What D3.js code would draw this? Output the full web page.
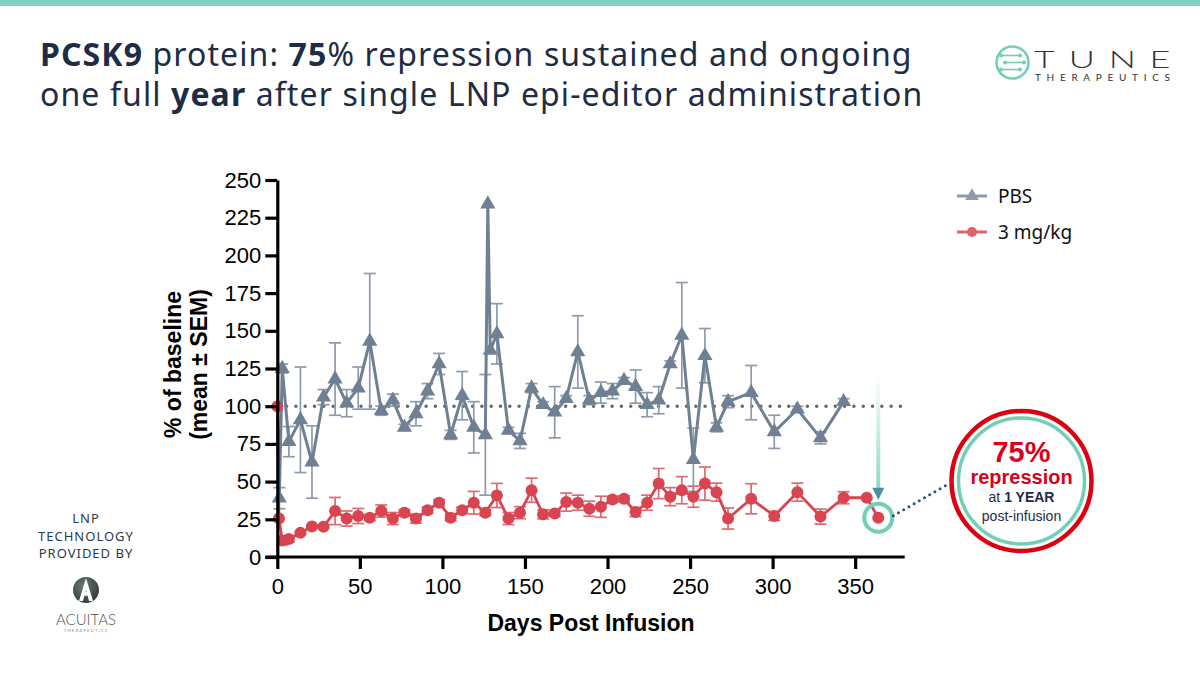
<!DOCTYPE html>
<html>
<head>
<meta charset="utf-8">
<script src="https://cdn.jsdelivr.net/npm/d3@7"></script>
<style>
  body { margin: 0; background: #fff; }
  svg { display: block; }
</style>
</head>
<body>
<svg id="slide" width="1200" height="675"></svg>
<script>
// ---- data ----
const pbsDays = [0, 1.2, 3, 7, 14, 21, 28, 35, 42, 49, 56, 63, 70, 77, 84, 91, 98, 105, 112, 119, 126, 127.5, 129, 133, 140, 147, 154, 161, 168, 175, 182, 189, 196, 203, 210, 217, 224, 231, 238, 245, 252, 259, 266, 273, 287, 301, 315, 329, 343];
const pbsMean = [100, 39, 125, 76.5, 91, 63, 106, 118, 102, 112, 143, 97, 104, 86, 95, 110, 128, 81, 107, 86, 81, 234, 137, 148, 84, 77, 112, 101, 96, 105, 136, 104, 109, 110, 117, 113, 101, 104, 128, 147, 64.5, 133.5, 86, 103, 109, 83, 98, 79, 103];
const pbsSem  = [0, 7, 3, 10, 35, 24, 5, 24, 9, 14, 45, 3, 4, 2, 8, 5, 7, 3, 16, 17, 40, 0, 0, 20, 2, 5, 3, 2, 17, 2, 24, 3, 7, 5, 2, 11, 8, 9, 2, 35, 21, 18, 3, 4, 18, 11, 2, 4, 2];

const doseDays = [0, 1, 3, 7, 14, 21, 28, 35, 42, 49, 56, 63, 70, 77, 84, 91, 98, 105, 112, 119, 126, 133, 140, 147, 154, 161, 168, 175, 182, 189, 196, 203, 210, 217, 224, 231, 238, 245, 252, 259, 266, 273, 287, 301, 315, 329, 343, 357, 364];
const doseMean = [100, 25.5, 11, 12, 16, 20.3, 20, 30.5, 25.5, 27.2, 26.1, 30.5, 25.5, 29.4, 25.5, 31, 36, 26.1, 31, 36, 29.4, 40.8, 25.5, 29.4, 44.3, 28.3, 28.9, 36.4, 36, 32, 33.3, 38.2, 38.6, 29.8, 36, 48.7, 40, 44.3, 40, 48.7, 43, 25.5, 38.6, 27.2, 43, 26.8, 39.3, 39.3, 26.1];
const doseSem  = [0, 0, 3, 2, 1, 1, 1, 9, 5, 5, 2, 4, 4, 2, 3, 2, 2, 2, 2, 7.5, 2, 8, 4, 4, 8, 3, 2, 6, 5, 5, 7, 2, 2, 3, 5, 10, 6, 9, 7, 11, 6, 7, 10, 3, 6, 5, 4, 0, 0];

const xTicks = [0, 50, 100, 150, 200, 250, 300, 350];
const yTicks = [0, 25, 50, 75, 100, 125, 150, 175, 200, 225, 250];
const seriesNames = ["PBS", "3 mg/kg"];

const pbsColor = "#6f8092";
const pbsLight = "#8d9bab";
const doseColor = "#d8444f";
const teal = "#72cfb6";
const navy = "#1e2c45";

const svg = d3.select("#slide");

// top stripe
svg.append("rect").attr("x", 0).attr("y", 0).attr("width", 1200).attr("height", 6).attr("fill", "#7fd1bb");

// title
const title = svg.append("text").attr("font-family", "Noto Sans").attr("font-size", 32)
  .attr("letter-spacing", 1.1).attr("fill", navy);
const l1 = title.append("tspan").attr("x", 40).attr("y", 66);
l1.append("tspan").attr("font-weight", "bold").text("PCSK9");
l1.append("tspan").text(" protein: ");
l1.append("tspan").attr("font-weight", "bold").text("75");
l1.append("tspan").text("% repression sustained and ongoing");
const l2 = title.append("tspan").attr("x", 40).attr("y", 106);
l2.append("tspan").text("one full ");
l2.append("tspan").attr("font-weight", "bold").text("year");
l2.append("tspan").text(" after single LNP epi-editor administration");

// TUNE logo
const logo = svg.append("g");
logo.append("circle").attr("cx", 1012.5).attr("cy", 62.5).attr("r", 16).attr("fill", "none").attr("stroke", teal).attr("stroke-width", 2.5);
[[-7, 1001, 1020], [0, 1005, 1024], [7, 1001, 1020]].forEach(([dy, a, b]) => {
  logo.append("line").attr("x1", a).attr("x2", b).attr("y1", 62.5 + dy).attr("y2", 62.5 + dy).attr("stroke", teal).attr("stroke-width", 1.6);
  logo.append("circle").attr("cx", a).attr("cy", 62.5 + dy).attr("r", 2).attr("fill", teal);
  logo.append("circle").attr("cx", b).attr("cy", 62.5 + dy).attr("r", 2).attr("fill", teal);
});
logo.append("text").attr("transform", "translate(1034,67.5) scale(1.5,1)").attr("font-family", "Lato").attr("font-weight", 300)
  .attr("font-size", 24).attr("fill", "#333").attr("textLength", 91).attr("lengthAdjust", "spacing").text("TUNE");
logo.append("text").attr("x", 1035).attr("y", 81).attr("font-family", "Lato")
  .attr("font-size", 10).attr("fill", "#333").attr("textLength", 135).attr("lengthAdjust", "spacing").text("THERAPEUTICS");

// LNP / Acuitas
const lnp = svg.append("g").attr("font-family", "Noto Sans").attr("font-size", 13).attr("fill", "#2b3a4f")
  .attr("text-anchor", "middle").attr("letter-spacing", 1);
lnp.append("text").attr("x", 86).attr("y", 523).text("LNP");
lnp.append("text").attr("x", 86).attr("y", 541).text("TECHNOLOGY");
lnp.append("text").attr("x", 86).attr("y", 558).text("PROVIDED BY");
const defs = svg.append("defs");
const rg = defs.append("radialGradient").attr("id", "acu").attr("cx", "40%").attr("cy", "35%").attr("r", "70%");
rg.append("stop").attr("offset", "0%").attr("stop-color", "#6e7a77");
rg.append("stop").attr("offset", "100%").attr("stop-color", "#2e3a38");
svg.append("circle").attr("cx", 86).attr("cy", 590).attr("r", 13).attr("fill", "url(#acu)");
svg.append("path").attr("d", "M86,578 L79,601 L83,601 L86,590 L89,601 L93,601 Z").attr("fill", "#fff");
svg.append("circle").attr("cx", 86).attr("cy", 594).attr("r", 2).attr("fill", "#fff");
svg.append("text").attr("x", 86).attr("y", 625).attr("text-anchor", "middle").attr("font-family", "Lato").attr("font-weight", 300)
  .attr("font-size", 15).attr("fill", "#555").text("ACUITAS");
svg.append("text").attr("x", 86).attr("y", 632).attr("text-anchor", "middle").attr("font-family", "Lato")
  .attr("font-size", 4.5).attr("letter-spacing", 1).attr("fill", "#999").text("THERAPEUTICS");

// ---- chart ----
const x = d3.scaleLinear().domain([0, 380]).range([277.3, 904.7]);
const y = d3.scaleLinear().domain([0, 250]).range([557, 180]);

const chart = svg.append("g");

// reference line at 100%
chart.append("line").attr("x1", x(0)).attr("x2", x(380)).attr("y1", y(100)).attr("y2", y(100))
  .attr("stroke", "#666").attr("stroke-width", 3.5).attr("stroke-linecap", "round").attr("stroke-dasharray", "0 9.3");

function errorBars(days, mean, sem, color) {
  const g = chart.append("g").attr("stroke", color).attr("stroke-width", 1.7).attr("fill", "none");
  days.forEach((d, i) => {
    if (!sem[i]) return;
    const cx = x(d), top = y(mean[i] + sem[i]), bot = y(mean[i] - sem[i]);
    g.append("line").attr("x1", cx).attr("x2", cx).attr("y1", top).attr("y2", bot);
    g.append("line").attr("x1", cx - 6).attr("x2", cx + 6).attr("y1", top).attr("y2", top);
    g.append("line").attr("x1", cx - 6).attr("x2", cx + 6).attr("y1", bot).attr("y2", bot);
  });
}
errorBars(pbsDays, pbsMean, pbsSem, pbsLight);
errorBars(doseDays, doseMean, doseSem, "#de6a72");

const line = d3.line().x(d => x(d[0])).y(d => y(d[1]));
const pbsPts = pbsDays.map((d, i) => [d, pbsMean[i]]);
const dosePts = doseDays.map((d, i) => [d, doseMean[i]]);

chart.append("path").datum(pbsPts).attr("d", line).attr("fill", "none").attr("stroke", pbsColor)
  .attr("stroke-width", 3).attr("stroke-linejoin", "round");
const tri = d3.symbol().type(d3.symbolTriangle).size(100);
chart.selectAll(".pbs").data(pbsPts.slice(1)).join("path").attr("class", "pbs")
  .attr("d", tri).attr("transform", d => `translate(${x(d[0])},${y(d[1])})`).attr("fill", pbsColor);

chart.append("path").datum(dosePts).attr("d", line).attr("fill", "none").attr("stroke", doseColor)
  .attr("stroke-width", 2.8).attr("stroke-linejoin", "round");
chart.selectAll(".dose").data(dosePts).join("circle").attr("class", "dose")
  .attr("cx", d => x(d[0])).attr("cy", d => y(d[1])).attr("r", 6).attr("fill", doseColor);

// axes
const xAxis = svg.append("g").attr("transform", `translate(0,${y(0)})`)
  .call(d3.axisBottom(x).tickValues(xTicks).tickSize(12).tickSizeOuter(0).tickPadding(9));
const yAxis = svg.append("g").attr("transform", `translate(${x(0)},0)`)
  .call(d3.axisLeft(y).tickValues(yTicks).tickSize(12).tickSizeOuter(0).tickPadding(4));
[xAxis, yAxis].forEach(a => {
  a.select(".domain").attr("stroke", "#000").attr("stroke-width", 3.2);
  a.selectAll(".tick line").attr("stroke", "#000").attr("stroke-width", 3.2);
  a.selectAll(".tick text").attr("font-family", "Liberation Sans").attr("font-size", 22).attr("fill", "#000");
});
xAxis.select(".domain").attr("d", `M${x(0) - 12},0H${x(380)}`);

svg.append("text").attr("x", (x(0) + x(380)) / 2).attr("y", 631).attr("text-anchor", "middle")
  .attr("font-family", "Liberation Sans").attr("font-weight", "bold").attr("font-size", 23).text("Days Post Infusion");
const yl = svg.append("text").attr("transform", `translate(181,${(y(0) + y(250)) / 2 - 4}) rotate(-90)`)
  .attr("text-anchor", "middle").attr("font-family", "Liberation Sans").attr("font-weight", "bold").attr("font-size", 23);
yl.append("tspan").attr("x", 0).attr("y", 0).text("% of baseline");
yl.append("tspan").attr("x", 0).attr("y", 26).text("(mean ± SEM)");

// legend
const legend = svg.append("g").attr("font-family", "Noto Sans").attr("font-size", 19).attr("fill", "#111");
seriesNames.forEach((name, i) => {
  const ly = 196 + i * 36;
  const c = i === 0 ? pbsLight : "#e0626a";
  legend.append("line").attr("x1", 957).attr("x2", 987).attr("y1", ly).attr("y2", ly).attr("stroke", c).attr("stroke-width", 3);
  if (i === 0) legend.append("path").attr("d", d3.symbol().type(d3.symbolTriangle).size(80)).attr("transform", `translate(972,${ly})`).attr("fill", c);
  else legend.append("circle").attr("cx", 972).attr("cy", ly).attr("r", 5).attr("fill", c);
  legend.append("text").attr("x", 998).attr("y", ly + 6.5).text(name);
});

// callout
const lastDay = doseDays[doseDays.length - 1], lastVal = doseMean[doseMean.length - 1];
const px = x(lastDay), py = y(lastVal);
const lg = defs.append("linearGradient").attr("id", "arr").attr("x1", 0).attr("x2", 0).attr("y1", 0).attr("y2", 1);
lg.append("stop").attr("offset", "0%").attr("stop-color", "#9adccd").attr("stop-opacity", 0);
lg.append("stop").attr("offset", "100%").attr("stop-color", "#8fd6c6").attr("stop-opacity", 1);
svg.append("rect").attr("x", px - 2).attr("y", 372).attr("width", 4).attr("height", py - 28 - 372).attr("fill", "url(#arr)");
svg.append("path").attr("d", `M${px - 6},${py - 30} L${px + 6},${py - 30} L${px},${py - 18} Z`).attr("fill", "#4f8e9b");
svg.append("circle").attr("cx", px).attr("cy", py).attr("r", 14).attr("fill", "none").attr("stroke", teal).attr("stroke-width", 4);
svg.append("line").attr("x1", px + 15).attr("y1", py - 2).attr("x2", 950).attr("y2", 483).attr("stroke", "#2b5279")
  .attr("stroke-width", 3).attr("stroke-linecap", "round").attr("stroke-dasharray", "0 6");
const cg = svg.append("g").attr("transform", "translate(1021.5,481)");
cg.append("circle").attr("r", 70).attr("fill", "#fff").attr("stroke", "#dd0011").attr("stroke-width", 4.5);
cg.append("circle").attr("r", 63).attr("fill", "none").attr("stroke", teal).attr("stroke-width", 3.5);
cg.append("text").attr("y", -19).attr("text-anchor", "middle").attr("font-family", "Liberation Sans").attr("font-weight", "bold")
  .attr("font-size", 29).attr("fill", "#d8001a").text("75%");
cg.append("text").attr("y", 2.5).attr("text-anchor", "middle").attr("font-family", "Liberation Sans").attr("font-weight", "bold")
  .attr("font-size", 20).attr("fill", "#d8001a").text("repression");
const t3 = cg.append("text").attr("y", 21).attr("text-anchor", "middle").attr("font-family", "Liberation Sans")
  .attr("font-size", 14).attr("fill", navy);
t3.append("tspan").text("at ");
t3.append("tspan").attr("font-weight", "bold").text("1 YEAR");
cg.append("text").attr("y", 40).attr("text-anchor", "middle").attr("font-family", "Liberation Sans")
  .attr("font-size", 14).attr("fill", navy).text("post-infusion");
</script>
</body>
</html>
